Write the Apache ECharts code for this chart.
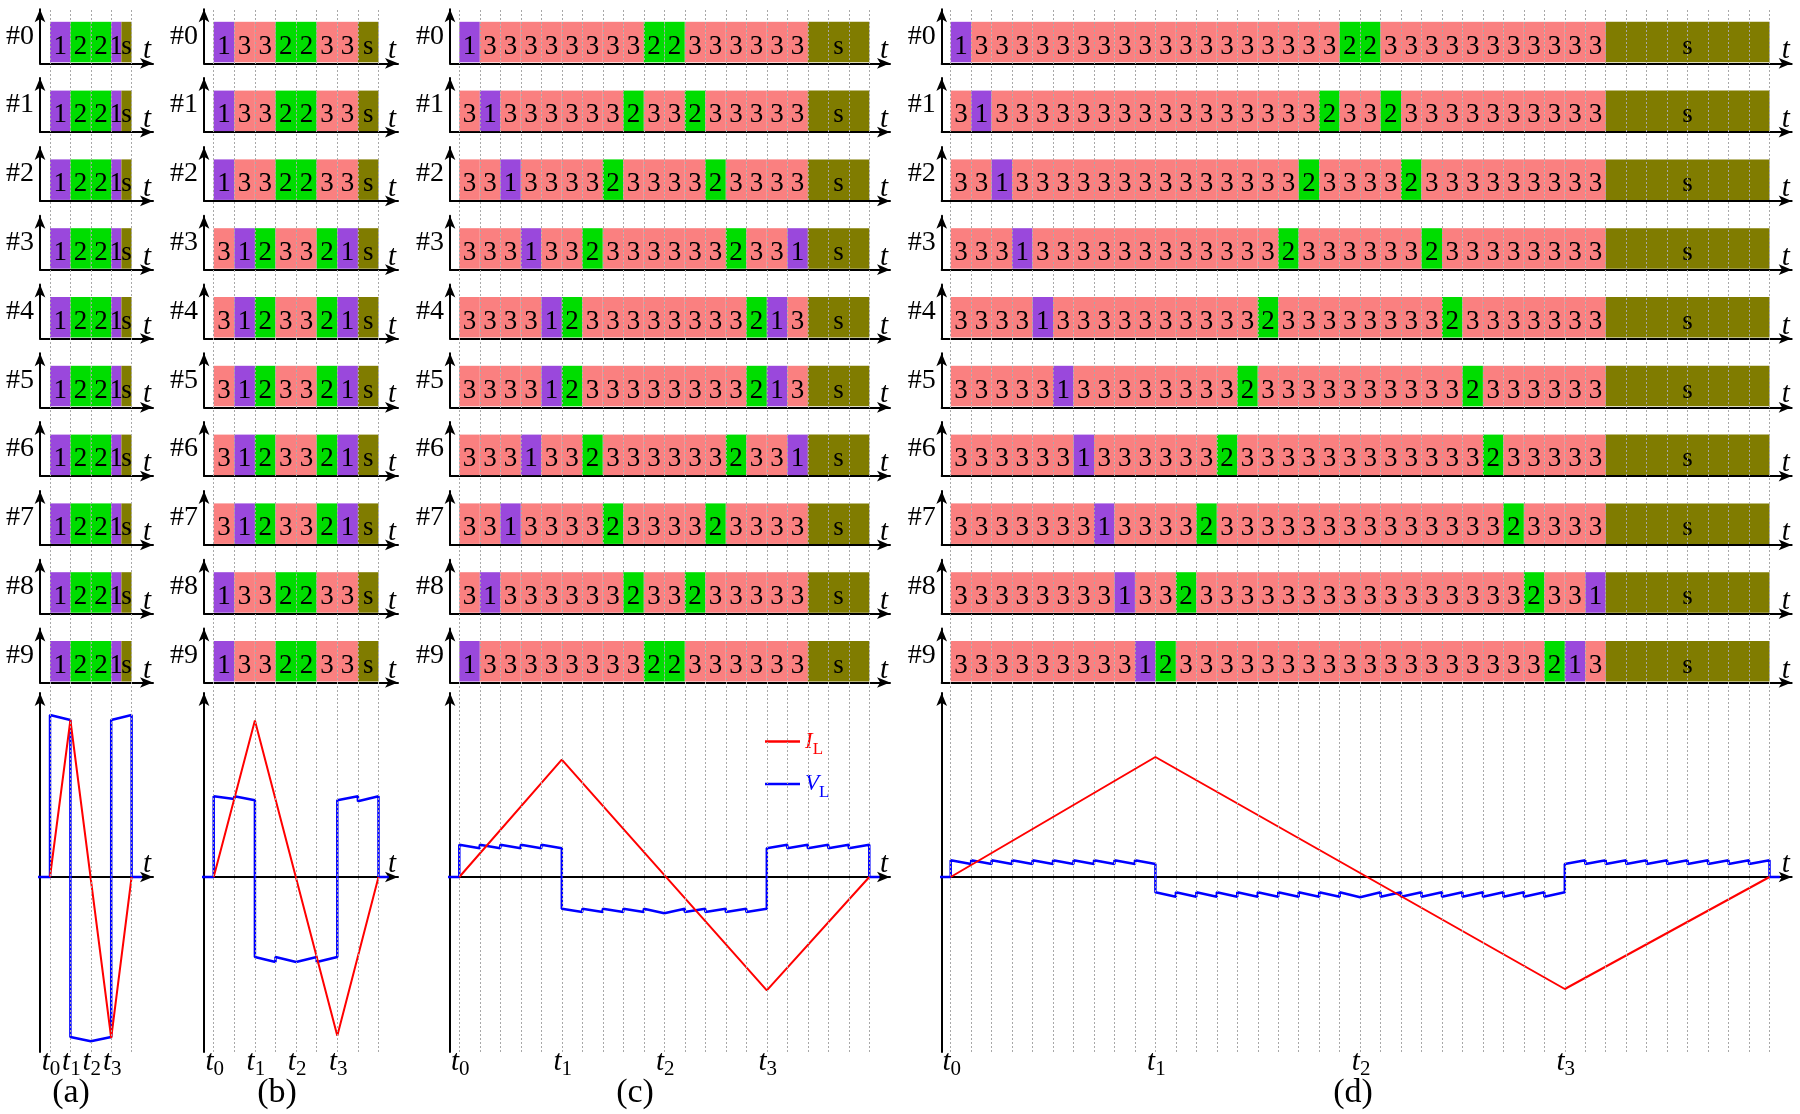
<!DOCTYPE html>
<html><head><meta charset="utf-8">
<script src="https://cdn.jsdelivr.net/npm/echarts@6/dist/echarts.min.js"></script>
<style>html,body{margin:0;padding:0;background:#fff}#c{width:1800px;height:1114px}</style>
</head><body><div id="c"></div>
<script>
// ---------------- DATA ----------------
const rowLabels = ['#0','#1','#2','#3','#4','#5','#6','#7','#8','#9'];
const stateCodes = ['1','2','3','s'];

// (a): five slots per row, durations in cell units
const statesA = ['1221s','1221s','1221s','1221s','1221s','1221s','1221s','1221s','1221s','1221s'];
const durA = [1,1,1,0.5,0.5];

// (b)
const statesB = ['1332233s','1332233s','1332233s','3123321s','3123321s','3123321s','3123321s','3123321s','1332233s','1332233s'];
const sDurB = 1;

// (c)
const statesC = [
  '1333333332 2333333 s',
  '3133333323 3233333 s',
  '3313333233 3323333 s',
  '3331332333 3332331 s',
  '3333123333 3333213 s',
  '3333123333 3333213 s',
  '3331332333 3332331 s',
  '3313333233 3323333 s',
  '3133333323 3233333 s',
  '1333333332 2333333 s'
];
const sDurC = 3;

// (d)
const statesD = [
  '1333333333 3333333332 2333333333 33 s',
  '3133333333 3333333323 3233333333 33 s',
  '3313333333 3333333233 3323333333 33 s',
  '3331333333 3333332333 3332333333 33 s',
  '3333133333 3333323333 3333233333 33 s',
  '3333313333 3333233333 3333323333 33 s',
  '3333331333 3332333333 3333332333 33 s',
  '3333333133 3323333333 3333333233 33 s',
  '3333333313 3233333333 3333333323 31 s',
  '3333333331 2333333333 3333333332 13 s'
];
const sDurD = 8;

// time marks t0..t3 (cell units) and subscripts
const tSubs = ['0','1','2','3'];
const tPosA = [0,1,2,3];
const tPosB = [0,2,4,6];
const tPosC = [0,5,10,15];
const tPosD = [0,10,20,30];

// inductor current I_L
const ilA = [[0,0],[1,157],[3,-161],[4,0]];
const ilB = [[0,0],[2,156.5],[6,-158.7],[8,0]];
const ilC = [[0,0],[5,117.3],[15,-113.3],[20,0]];
const ilD = [[0,0],[10,120],[30,-112],[40,0]];

// inductor voltage V_L
const vlA = [[-0.6,0],[0,0],[0,162],[1,157],[1,-160],[2,-164.3],[3,-160],[3,157],[4,162],[4,0],[4.5,0]];
const vlB = [[-0.6,0],[0,0],[0,80.7],[1,78],[1,80.7],[2,76.7],[2,-80],[3,-85],[3,-80],[4,-85],[5,-80],[5,-85],[6,-80],
  [6,76.7],[7,80.7],[7,75.7],[8,80.7],[8,0],[8.5,0]];
const vlC = [[-0.6,0],[0,0],[0,32.3],[1,28.7],[1,32.3],[2,28.7],[2,32.3],[3,28.7],[3,32.3],[4,28.7],[4,32.3],[5,28.7],
  [5,-31.7],[6,-35],[6,-31.7],[7,-35],[7,-31.7],[8,-35],[8,-31.7],[9,-35],[9,-31.7],[10,-36.3],
  [11,-31.7],[11,-35],[12,-31.7],[12,-35],[13,-31.7],[13,-35],[14,-31.7],[14,-35],[15,-31.7],
  [15,28.7],[16,32.3],[16,28.7],[17,32.3],[17,28.7],[18,32.3],[18,28.7],[19,32.3],[19,28.7],[20,32.3],[20,0],[20.5,0]];
const vlD = [[-0.6,0],[0,0],[0,16.7],[1,13],[1,16.7],[2,13],[2,16.7],[3,13],[3,16.7],[4,13],[4,16.7],[5,13],[5,16.7],
  [6,13],[6,16.7],[7,13],[7,16.7],[8,13],[8,16.7],[9,13],[9,16.7],[10,13],
  [10,-15.3],[11,-19.7],[11,-15.3],[12,-19.7],[12,-15.3],[13,-19.7],[13,-15.3],[14,-19.7],[14,-15.3],[15,-19.7],
  [15,-15.3],[16,-19.7],[16,-15.3],[17,-19.7],[17,-15.3],[18,-19.7],[18,-15.3],[19,-19.7],[19,-15.3],[20,-20.3],
  [21,-15.3],[21,-19.7],[22,-15.3],[22,-19.7],[23,-15.3],[23,-19.7],[24,-15.3],[24,-19.7],[25,-15.3],[25,-19.7],
  [26,-15.3],[26,-19.7],[27,-15.3],[27,-19.7],[28,-15.3],[28,-19.7],[29,-15.3],[29,-19.7],[30,-15.3],
  [30,13],[31,16.7],[31,13],[32,16.7],[32,13],[33,16.7],[33,13],[34,16.7],[34,13],[35,16.7],[35,13],
  [36,16.7],[36,13],[37,16.7],[37,13],[38,16.7],[38,13],[39,16.7],[39,13],[40,16.7],[40,0],[40.5,0]];

// ---------------- LAYOUT / STYLE ----------------
const FONT = '"Liberation Serif","DejaVu Serif","Times New Roman",serif';
const COLORS = {'1':'#9a48dc','2':'#00dd00','3':'#fa8080','s':'#807c00'};
const panels = [
  {label:'(a)', labelX:71,   axisX:40,    x0:50,    cw:20.4,  n:4,  arrowEnd:153,    rows:statesA, durs:durA, sDur:null, tPos:tPosA, il:ilA, vl:vlA},
  {label:'(b)', labelX:277,  axisX:204,   x0:213.7, cw:20.6,  n:8,  arrowEnd:398,    rows:statesB, durs:null, sDur:sDurB, tPos:tPosB, il:ilB, vl:vlB},
  {label:'(c)', labelX:635,  axisX:450,   x0:459.3, cw:20.5,  n:20, arrowEnd:890,    rows:statesC, durs:null, sDur:sDurC, tPos:tPosC, il:ilC, vl:vlC},
  {label:'(d)', labelX:1353, axisX:941.7, x0:950.7, cw:20.47, n:40, arrowEnd:1791.7, rows:statesD, durs:null, sDur:sDurD, tPos:tPosD, il:ilD, vl:vlD}
];
const ROW_AXIS0 = 63.3, ROW_PITCH = 68.8, ROW_H = 54;
const CELL_B = 1, CELL_T = 41.5, TEXT_Y = 16.8;
const BOT_TOP = 693, BOT_H = 359, BOT_MIN = -175, BOT_MAX = 184;

function buildCells(str, durs, sDur){
  const chars = str.replace(/\s/g,'').split('');
  let t = 0; const out = [];
  chars.forEach((ch, i) => {
    const d = durs ? durs[i] : (ch === 's' ? sDur : 1);
    out.push([t, t + d, stateCodes.indexOf(ch)]);
    t += d;
  });
  return out;
}

function cellRender(params, api){
  const s = api.value(0), e = api.value(1), code = api.value(2);
  const lab = stateCodes[code];
  const p0 = api.coord([s, CELL_B]), p1 = api.coord([e, CELL_T]);
  const tp = api.coord([(s + e) / 2, TEXT_Y]);
  return {type:'group', children:[
    {type:'rect', shape:{x:p0[0], y:p1[1], width:p1[0]-p0[0], height:p0[1]-p1[1]}, style:{fill:COLORS[lab]}},
    {type:'text', x:tp[0], y:tp[1], style:{text:lab, fill:'#000', fontSize:27, fontFamily:FONT, align:'center', verticalAlign:'middle'}}
  ]};
}

const axisLineStyle = {show:true, onZero:false, symbol:['none','arrow'], symbolSize:[8,13], lineStyle:{color:'#000', width:2}};
const tName = {fontFamily:FONT, fontStyle:'italic', fontSize:29, color:'#000', align:'right', verticalAlign:'bottom', lineHeight:25};

const grids = [], xAxes = [], yAxes = [], series = [], graphics = [];
let gi = 0;
panels.forEach((p) => {
  const xmin = (p.axisX - p.x0) / p.cw, xmax = (p.arrowEnd - p.x0) / p.cw;
  const W = p.arrowEnd - p.axisX;
  // overlay grid for the dotted time grid
  grids.push({left:p.x0, top:10, width:p.n * p.cw, height:1042, outerBoundsMode:'none'});
  xAxes.push({gridIndex:gi, type:'value', min:0, max:p.n, interval:1, z:10,
    axisLine:{show:false}, axisTick:{show:false}, axisLabel:{show:false},
    splitLine:{show:true, showMinLine:true, showMaxLine:true, lineStyle:{color:'#a8a8a8', width:1, type:[2,2]}}});
  yAxes.push({gridIndex:gi, type:'value', min:0, max:1, show:false});
  gi++;
  // rows
  p.rows.forEach((str, k) => {
    const axisY = ROW_AXIS0 + ROW_PITCH * k;
    grids.push({left:p.axisX, top:axisY - ROW_H, width:W, height:ROW_H, outerBoundsMode:'none'});
    xAxes.push({gridIndex:gi, type:'value', min:xmin, max:xmax,
      axisLine:Object.assign({}, axisLineStyle, {onZero:true}), axisTick:{show:false}, axisLabel:{show:false}, splitLine:{show:false},
      name:'t', nameLocation:'end', nameGap:-2, nameTextStyle:tName});
    yAxes.push({gridIndex:gi, type:'value', min:0, max:ROW_H,
      axisLine:axisLineStyle, axisTick:{show:false}, axisLabel:{show:false}, splitLine:{show:false},
      name:rowLabels[k], nameLocation:'middle', nameRotate:0, nameGap:6,
      nameTextStyle:{fontFamily:FONT, fontSize:28, color:'#000', align:'right', verticalAlign:'middle'}});
    series.push({type:'custom', xAxisIndex:gi, yAxisIndex:gi, clip:false, silent:true,
      data:buildCells(str, p.durs, p.sDur), renderItem:cellRender});
    gi++;
  });
  // bottom waveform grid
  grids.push({left:p.axisX, top:BOT_TOP, width:W, height:BOT_H, outerBoundsMode:'none'});
  xAxes.push({gridIndex:gi, type:'value', min:xmin, max:xmax,
    axisLine:Object.assign({}, axisLineStyle, {onZero:true}), axisTick:{show:false}, axisLabel:{show:false}, splitLine:{show:false},
    name:'t', nameLocation:'end', nameGap:-2, nameTextStyle:tName});
  yAxes.push({gridIndex:gi, type:'value', min:BOT_MIN, max:BOT_MAX,
    axisLine:axisLineStyle, axisTick:{show:false}, axisLabel:{show:false}, splitLine:{show:false}});
  series.push({type:'line', name:'VL', xAxisIndex:gi, yAxisIndex:gi, data:p.vl, symbol:'none', showSymbol:false,
    lineStyle:{color:'#0000ff', width:2.5}, itemStyle:{color:'#0000ff'}, z:3, silent:true});
  series.push({type:'line', name:'IL', xAxisIndex:gi, yAxisIndex:gi, data:p.il, symbol:'none', showSymbol:false,
    lineStyle:{color:'#ff0000', width:2}, itemStyle:{color:'#ff0000'}, z:4, silent:true});
  const tp = p.tPos;
  series.push({type:'custom', xAxisIndex:gi, yAxisIndex:gi, clip:false, silent:true,
    data:tp.map(v => [v]),
    renderItem:(params, api) => {
      const pt = api.coord([api.value(0), BOT_MIN]);
      return {type:'text', x:pt[0] + 1, y:pt[1] - 4, style:{
        text:'{t|t}{s|' + tSubs[params.dataIndex] + '}', align:'center', verticalAlign:'top',
        rich:{
          t:{fontFamily:FONT, fontStyle:'italic', fontSize:29, lineHeight:29, verticalAlign:'top', fill:'#000'},
          s:{fontFamily:FONT, fontSize:21, lineHeight:32, verticalAlign:'bottom', fill:'#000'}
        }}};
    }});
  gi++;
  graphics.push({type:'text', x:p.labelX, y:1093, silent:true,
    style:{text:p.label, fontFamily:FONT, fontSize:34, fill:'#000', align:'center', verticalAlign:'middle'}});
});

const option = {
  animation:false,
  backgroundColor:'#fff',
  textStyle:{fontFamily:FONT},
  grid:grids, xAxis:xAxes, yAxis:yAxes, series:series, graphic:graphics,
  legend:{
    orient:'vertical', left:765, top:730, padding:0, itemWidth:35, itemHeight:2.5, itemGap:14,
    icon:'rect', selectedMode:false,
    data:[{name:'IL'},{name:'VL'}],
    formatter:(n) => n === 'IL' ? '{ri|I}{rl|L}{z| }' : '{bi|V}{bl|L}{z| }',
    textStyle:{rich:{
      ri:{color:'#ff0000', fontFamily:FONT, fontStyle:'italic', fontSize:23, lineHeight:23, verticalAlign:'middle'},
      rl:{color:'#ff0000', fontFamily:FONT, fontSize:17, lineHeight:17, verticalAlign:'bottom'},
      bi:{color:'#0000ff', fontFamily:FONT, fontStyle:'italic', fontSize:23, lineHeight:23, verticalAlign:'middle'},
      bl:{color:'#0000ff', fontFamily:FONT, fontSize:17, lineHeight:17, verticalAlign:'bottom'},
      z:{fontSize:2, lineHeight:34}
    }}
  }
};
const chart = echarts.init(document.getElementById('c'), null, {renderer:'canvas'});
chart.setOption(option);
</script></body></html>
